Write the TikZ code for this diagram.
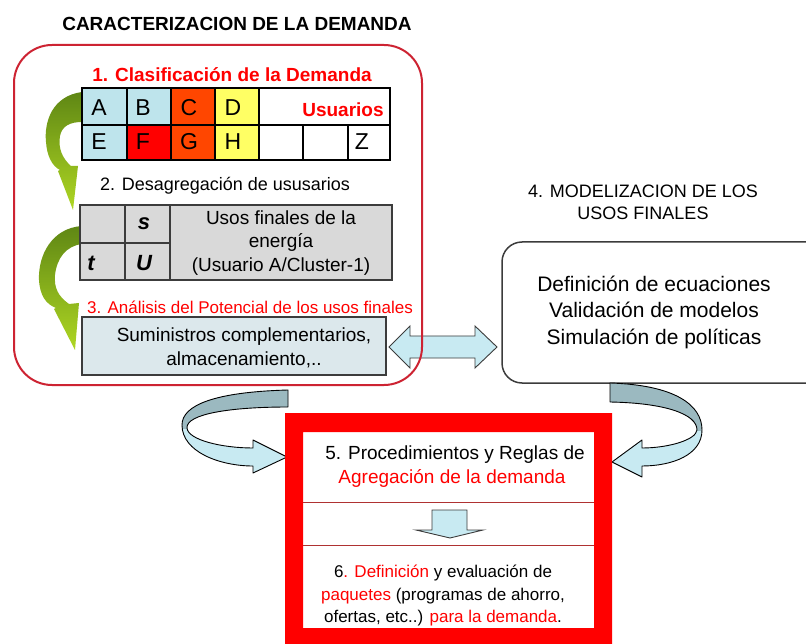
\documentclass[tikz,border=0pt]{standalone}
\usepackage{fontspec}
\setmainfont{Liberation Sans}
\definecolor{boxred}{RGB}{205,35,50}
\definecolor{tblue}{RGB}{190,228,236}
\definecolor{torange}{RGB}{255,70,0}
\definecolor{tyellow}{RGB}{255,255,100}
\definecolor{tred}{RGB}{255,0,0}
\definecolor{tgray}{RGB}{217,217,217}
\definecolor{sgray}{RGB}{220,232,236}
\definecolor{acyan}{RGB}{200,234,242}
\definecolor{aback}{RGB}{155,185,192}
\definecolor{gdark}{RGB}{95,135,20}
\definecolor{glight}{RGB}{175,215,35}
\definecolor{edge}{RGB}{60,60,60}
\definecolor{divred}{RGB}{175,50,50}
\begin{document}
\begin{tikzpicture}[x=1pt,y=-1pt,
  txt/.style={inner sep=0pt, align=center},
  letter/.style={txt, font=\fontsize{23}{26}\selectfont},
  ital/.style={txt, font=\bfseries\itshape\fontsize{22}{26}\selectfont},
  body/.style={txt, font=\fontsize{19}{23.5}\selectfont},
  small/.style={txt, font=\fontsize{17}{22.5}\selectfont},
  blockarrow/.style={fill=acyan, draw=edge, line width=0.9pt},
  greenarrow/.style={top color=gdark, bottom color=glight},
]
\useasboundingbox (0,0) rectangle (806,644);

% title
\node[txt, font=\bfseries\fontsize{19}{22}\selectfont] (title) at (237,24) {CARACTERIZACION DE LA DEMANDA};

% green curved arrows (beneath tables)
\path[greenarrow] (82,92) .. controls (52,96) and (44,122) .. (46,142)
  .. controls (47,156) and (52,166) .. (60,170) -- (58,171) -- (73,210) -- (78,166) -- (71,166)
  .. controls (62,158) and (58,148) .. (60,136) .. controls (62,126) and (70,122) .. (82,122) -- cycle;
\path[greenarrow] (82,226) .. controls (52,228) and (38,255) .. (39,280)
  .. controls (40,296) and (46,304) .. (56,308) -- (54,309) -- (75,350) -- (79,303) -- (69,304)
  .. controls (58,296) and (54,288) .. (55,275) .. controls (57,258) and (66,246) .. (82,244) -- cycle;

% 1. classification
\node[txt, text=tred, font=\bfseries\fontsize{19}{22}\selectfont] (cl) at (232,75) {1. Clasificación de la Demanda};
\fill[tblue] (82,88) rectangle (171,125);
\fill[torange] (171,88) rectangle (215,125);
\fill[tyellow] (215,88) rectangle (259,125);
\fill[white] (259,88) rectangle (390,125);
\fill[tblue] (82,125) rectangle (127,160);
\fill[tred] (127,125) rectangle (171,160);
\fill[torange] (171,125) rectangle (215,160);
\fill[tyellow] (215,125) rectangle (259,160);
\fill[white] (259,125) rectangle (390,160);
\draw[line width=1.2pt] (127,88) -- (127,160) (171,88) -- (171,160) (215,88) -- (215,160) (259,88) -- (259,160)
  (82,125) -- (390,125) (303,125) -- (303,160) (348,125) -- (348,160);
\draw[line width=2pt] (82,88) rectangle (390,160);
\node[letter] (lA) at (99,108) {A};
\node[letter] (lB) at (143,108) {B};
\node[letter] (lC) at (189,108) {C};
\node[letter] (lD) at (233,108) {D};
\node[letter] (lE) at (99,142) {E};
\node[letter] (lF) at (143,142) {F};
\node[letter] (lG) at (189,142) {G};
\node[letter] (lH) at (233,142) {H};
\node[letter] (lZ) at (362,142) {Z};
\node[txt, text=tred, font=\bfseries\fontsize{19}{22}\selectfont] (usu) at (343,110) {Usuarios};

% 2. disaggregation
\node[txt, font=\fontsize{18}{21}\selectfont] (des) at (225,186) {2. Desagregación de ususarios};
\fill[tgray] (80,205) rectangle (392,280);
\draw[edge, line width=1.2pt] (125,205) -- (125,280) (170,205) -- (170,280) (80,243) -- (170,243);
\draw[edge, line width=1.8pt] (80,205) rectangle (392,280);
\node[ital] (cs) at (144,224) {s};
\node[ital] (ct) at (91,263) {t};
\node[ital] (cu) at (144,263) {U};
\node[body, font=\fontsize{19}{23.5}\selectfont] (usos) at (281,243) {Usos finales de la\\energía\\(Usuario A/Cluster-1)};

% 3. potential analysis
\node[txt, text=tred, font=\fontsize{17}{20}\selectfont] (ana) at (250,307) {3. Análisis del Potencial de los usos finales};
\node[fill=sgray, draw=edge, line width=1.2pt, minimum width=304pt, minimum height=58pt, inner sep=0pt] (sum) at (234,346) {};
\node[body] (sumt) at (244,348) {Suministros complementarios,\\almacenamiento,..};

% double arrow
\path[blockarrow] (389,347) -- (410,326) -- (410,336) -- (475,336) -- (475,326) -- (497,347)
  -- (475,368) -- (475,358) -- (410,358) -- (410,368) -- cycle;

% red rounded frame
\draw[boxred, line width=2pt, rounded corners=38pt] (14,45) rectangle (422,385);

% 4. modelling
\node[txt, font=\fontsize{18}{22}\selectfont] (mod) at (643,202) {4. MODELIZACION DE LOS\\USOS FINALES};
\draw[draw=edge, line width=1.5pt, rounded corners=20pt, fill=white] (502,242) rectangle (850,383);
\node[txt, font=\fontsize{21}{26.5}\selectfont] (modt) at (654,312) {Definición de ecuaciones\\Validación de modelos\\Simulación de políticas};

% curved arrows towards box 5
\def\leftarrowpath{(288,390) .. controls (215,392) and (182,405) .. (182,425) .. controls (182,452) and (220,466) .. (253,466) -- (253,473) -- (287,457) -- (253,440) -- (253,448) .. controls (222,448) and (188,440) .. (187,428) .. controls (186,414) and (230,407) .. (288,407) -- cycle}
\fill[acyan] \leftarrowpath;
\begin{scope}
  \clip (150,380) rectangle (300,428);
  \fill[aback] \leftarrowpath;
\end{scope}
\draw[black, line width=0.9pt, line join=round] \leftarrowpath;

\def\rightarrowpath{(610,383) .. controls (675,385) and (702,405) .. (702,430) .. controls (702,455) and (672,466) .. (642,466) -- (642,477) -- (612,462) -- (642,440) -- (642,448) .. controls (668,448) and (696,440) .. (697,430) .. controls (697,414) and (665,403) .. (610,402) -- cycle}
\fill[acyan] \rightarrowpath;
\begin{scope}
  \clip (600,375) rectangle (720,430);
  \fill[aback] \rightarrowpath;
\end{scope}
\draw[black, line width=0.9pt, line join=round] \rightarrowpath;

% red frame 5/6
\fill[tred, even odd rule] (285,413) rectangle (612,660) (303,432) rectangle (594,628);
\draw[divred, line width=0.8pt] (303,502) -- (594,502) (303,545) -- (594,545);
\node[txt, font=\fontsize{19}{22}\selectfont] (p5) at (455,455) {5. Procedimientos y Reglas de};
\node[txt, text=tred, font=\fontsize{19}{22}\selectfont] (p5b) at (452,478) {Agregación de la demanda};
\path[blockarrow] (432,510) -- (467,510) -- (467,530) -- (483,530) -- (450,538) -- (416,530) -- (432,530) -- cycle;
\node[small] (p6) at (443,596) {6{\color{tred}. Definición} y evaluación de\\{\color{tred}paquetes} (programas de ahorro,\\ofertas, etc..) {\color{tred}para la demanda}.};
\end{tikzpicture}
\end{document}
